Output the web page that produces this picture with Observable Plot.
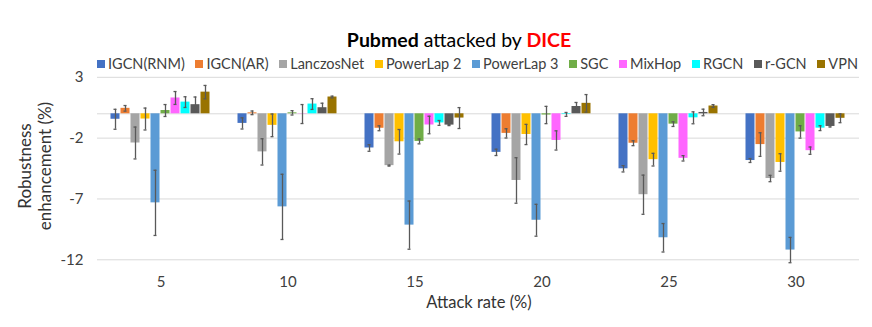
<!DOCTYPE html>
<html>
<head>
<meta charset="utf-8">
<script src="https://cdn.jsdelivr.net/npm/d3@7"></script>
<script src="https://cdn.jsdelivr.net/npm/@observablehq/plot@0.6"></script>
<style>
  body { margin: 0; background: #fff; font-family: Lato, "Open Sans", sans-serif; }
  #wrap { position: relative; width: 872px; height: 327px; overflow: hidden; background: #fff; }
  #title { position: absolute; left: 0; top: 29px; width: 872px; padding-left: 46px; box-sizing: border-box;
           height: 22px; line-height: 22px; font-size: 19.5px; text-align: center; color: #000; }
  #title b { font-weight: 700; }
  #title .red { color: #ff0000; }
  #legend { position: absolute; left: 97px; width: 761px; top: 54.5px; height: 18px; display: flex; align-items: center;
            justify-content: space-between; font-size: 14.5px; color: #404040; white-space: nowrap; }
  #legend .item { display: flex; align-items: center; }
  #legend .sw { width: 8px; height: 8px; margin-right: 3px; }
  #chart { position: absolute; left: 0; top: 72px; }
  #ylabel { position: absolute; left: 35px; top: 166px; transform: translate(-50%, -50%) rotate(-90deg);
            text-align: center; font-size: 17px; line-height: 20px; color: #333; white-space: nowrap; }
  #xlabel { position: absolute; left: 479px; top: 302px; transform: translate(-50%, -50%);
            font-size: 16.5px; line-height: 20px; color: #333; white-space: nowrap; }
</style>
</head>
<body>
<div id="wrap">
  <div id="title"><b>Pubmed</b> attacked by <b class="red">DICE</b></div>
  <div id="legend"></div>
  <div id="chart"></div>
  <div id="ylabel">Robustness<br>enhancement (%)</div>
  <div id="xlabel">Attack rate (%)</div>
</div>
<script>
// ---- Data ----
const rates = [5, 10, 15, 20, 25, 30];
const models = ["IGCN(RNM)", "IGCN(AR)", "LanczosNet", "PowerLap 2", "PowerLap 3", "SGC", "MixHop", "RGCN", "r-GCN", "VPN"];
const colors = ["#4472C4", "#ED7D31", "#A5A5A5", "#FFC000", "#5B9BD5", "#70AD47", "#FF66FF", "#00FFFF", "#595959", "#997300"];

const igcnRnm     = [-0.45, -0.79, -2.81, -3.17, -4.52, -3.84];
const igcnRnmErr  = [0.82, 0.46, 0.27, 0.26, 0.26, 0.16];
const igcnAr      = [0.45, 0.08, -1.19, -1.61, -2.42, -2.53];
const igcnArErr   = [0.23, 0.15, 0.20, 0.38, 0.20, 0.97];
const lanczos     = [-2.40, -3.13, -4.26, -5.48, -6.65, -5.32];
const lanczosErr  = [1.31, 1.08, 0.04, 1.87, 1.61, 0.26];
const powerLap2   = [-0.43, -0.95, -2.30, -1.70, -3.77, -4.00];
const powerLap2Err= [0.90, 0.93, 1.01, 0.83, 0.52, 0.72];
const powerLap3   = [-7.32, -7.65, -9.15, -8.75, -10.19, -11.20];
const powerLap3Err= [2.68, 2.68, 1.98, 1.31, 1.17, 1.04];
const sgc         = [0.27, 0.08, -2.27, -0.10, -0.85, -1.49];
const sgcErr      = [0.49, 0.18, 0.20, 0.71, 0.19, 0.51];
const mixHop      = [1.30, -0.02, -0.92, -2.19, -3.66, -3.03];
const mixHopErr   = [0.53, 0.78, 0.72, 0.79, 0.22, 0.30];
const rgcn        = [0.96, 0.80, -0.75, -0.05, -0.33, -1.18];
const rgcnErr     = [0.44, 0.44, 0.20, 0.16, 0.49, 0.20];
const rGcn        = [0.75, 0.50, -0.93, 0.60, 0.11, -1.04];
const rGcnErr     = [0.63, 0.37, 0.04, 0.33, 0.27, 0.05];
const vpn         = [1.78, 1.38, -0.35, 0.86, 0.64, -0.37];
const vpnErr      = [0.55, 0.07, 0.86, 0.72, 0.11, 0.36];

const yTicks = [3, -2, -7, -12];

// ---- Table built from the arrays ----
const seriesValues = [igcnRnm, igcnAr, lanczos, powerLap2, powerLap3, sgc, mixHop, rgcn, rGcn, vpn];
const seriesErrors = [igcnRnmErr, igcnArErr, lanczosErr, powerLap2Err, powerLap3Err, sgcErr, mixHopErr, rgcnErr, rGcnErr, vpnErr];
const table = [];
models.forEach((m, j) => {
  rates.forEach((r, i) => {
    table.push({rate: r, model: m, value: seriesValues[j][i], err: seriesErrors[j][i]});
  });
});

// ---- Legend ----
const legend = document.getElementById("legend");
models.forEach((m, j) => {
  const it = document.createElement("div");
  it.className = "item";
  const sw = document.createElement("span");
  sw.className = "sw";
  sw.style.background = colors[j];
  const tx = document.createElement("span");
  tx.textContent = m;
  it.appendChild(sw); it.appendChild(tx);
  legend.appendChild(it);
});

// ---- Chart ----
const errColor = "#595959";
const chart = Plot.plot({
  width: 872,
  height: 255,
  marginTop: 4.8,
  marginBottom: 67.7,
  marginLeft: 96.5,
  marginRight: 13.5,
  style: {fontFamily: "Lato, 'Open Sans', sans-serif", overflow: "visible", background: "transparent"},
  fx: {domain: rates, padding: 0},
  x: {domain: models, paddingInner: 0.08, paddingOuter: 0.93, axis: null},
  y: {domain: [-12, 3]},
  color: {domain: models, range: colors},
  marks: [
    Plot.ruleY([...yTicks, 0], {stroke: "#d9d9d9", strokeWidth: 1}),
    Plot.barY(table, {fx: "rate", x: "model", y: "value", fill: "model"}),
    Plot.ruleX(table, {fx: "rate", x: "model", y1: d => d.value - d.err, y2: d => d.value + d.err, stroke: errColor, strokeWidth: 1.3}),
    Plot.tickY(table, {fx: "rate", x: "model", y: d => d.value - d.err, stroke: errColor, strokeWidth: 1.3, insetLeft: 3, insetRight: 3}),
    Plot.tickY(table, {fx: "rate", x: "model", y: d => d.value + d.err, stroke: errColor, strokeWidth: 1.3, insetLeft: 3, insetRight: 3}),
    Plot.axisY({ticks: yTicks, tickSize: 0, tickPadding: 14, fontSize: 15, fill: "#404040", label: null, tickFormat: d => String(d)}),
    Plot.axisFx({anchor: "bottom", tickSize: 0, tickPadding: 17, fontSize: 15, fill: "#404040", label: null})
  ]
});
document.getElementById("chart").appendChild(chart);
</script>
</body>
</html>
